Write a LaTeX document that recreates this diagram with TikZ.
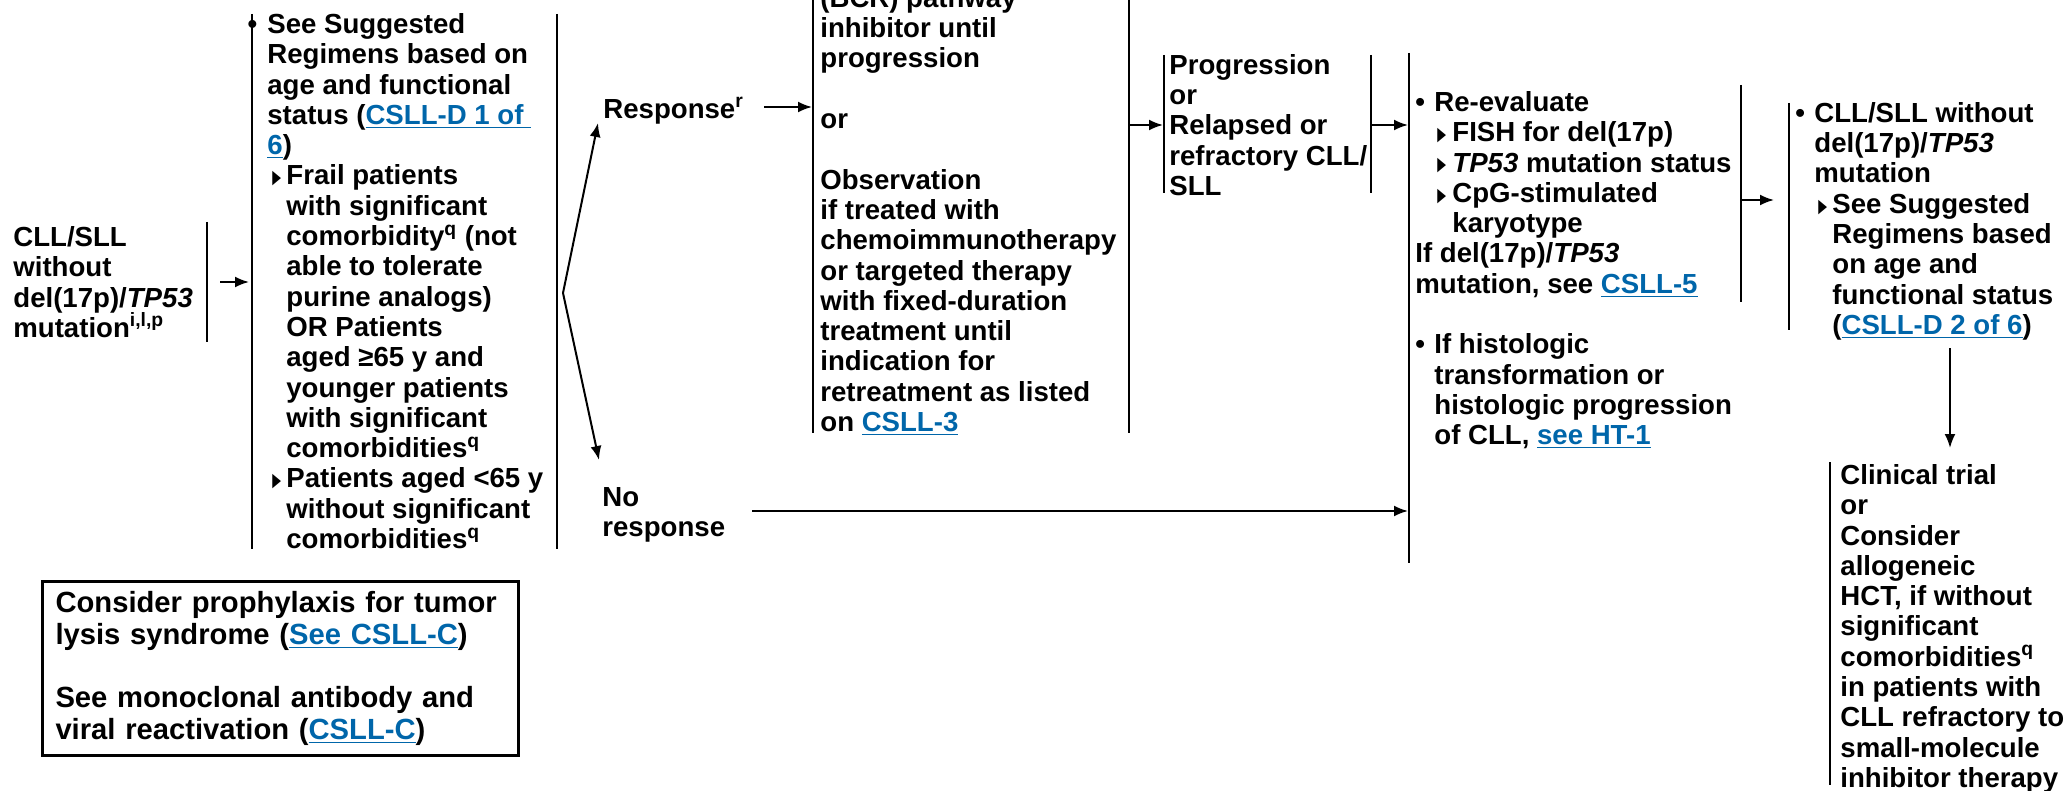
\documentclass[tikz,border=0pt]{standalone}
\usepackage{fontspec}
\setmainfont{Liberation Sans}
\newfontfamily\symfont{DejaVu Sans}
\usetikzlibrary{arrows.meta}
\definecolor{linkblue}{RGB}{0,102,170}
\newcommand{\lnk}[1]{\textcolor{linkblue}{\underline{#1}}}
\newcommand{\tri}{\raisebox{0.6pt}{\scalebox{0.6}[1]{\symfont\fontsize{9.5pt}{9.5pt}\selectfont ▶}}}
\begin{document}
\begin{tikzpicture}[x=0.5pt,y=-0.5pt,
    txt/.style={anchor=north west,inner sep=0pt,align=left,
      font=\fontsize{13.8pt}{15.15pt}\selectfont\bfseries},
    bar/.style={line width=1pt},
    arr/.style={line width=1pt,-{Latex[length=7pt,width=5.5pt]}}]
    \useasboundingbox (0,0) rectangle (2067,791);
    \clip (0,0) rectangle (2067,791);

    % diagnosis
    \node[txt] (start) at (13,226) {CLL/SLL\\without\\del(17p)/\textit{TP53}\\mutation\textsuperscript{i,l,p}};
    \draw[bar] (207,222) -- (207,342);

    % first-line therapy
    \node[txt] (regimens) at (267,13) {\llap{•\hspace{5pt}}See Suggested\\
      Regimens based on\\age and functional\\status (\lnk{CSLL-D 1 of\ }\\\lnk{6})\\
      \hspace*{2.5pt}\makebox[7pt][l]{\tri}Frail patients\\
      \hspace*{9.5pt}with significant\\
      \hspace*{9.5pt}comorbidity\textsuperscript{q} (not\\
      \hspace*{9.5pt}able to tolerate\\
      \hspace*{9.5pt}purine analogs)\\
      \hspace*{9.5pt}OR Patients\\
      \hspace*{9.5pt}aged ≥65 y and\\
      \hspace*{9.5pt}younger patients\\
      \hspace*{9.5pt}with significant\\
      \hspace*{9.5pt}comorbidities\textsuperscript{q}\\
      \hspace*{2.5pt}\makebox[7pt][l]{\tri}Patients aged <65 y\\
      \hspace*{9.5pt}without significant\\
      \hspace*{9.5pt}comorbidities\textsuperscript{q}};
    \draw[bar] (252,14) -- (252,549);
    \draw[bar] (557,14) -- (557,549);

    % response split
    \node[txt] (response) at (603,97) {Response\textsuperscript{r}};
    \node[txt] (noresp) at (602,487) {No\\response};
    \coordinate (fork) at (563,293);
    \coordinate (uptip) at (598,123);
    \coordinate (downtip) at (599,460);
    \draw[arr] (fork) -- (uptip);
    \draw[arr] (fork) -- (downtip);

    % maintenance / observation
    \node[txt] (maint) at (820,-13) {(BCR) pathway\\inhibitor until\\progression\\[15.15pt]
      or\\[15.15pt]Observation\\if treated with\\chemoimmunotherapy\\or targeted therapy\\
      with fixed-duration\\treatment until\\indication for\\retreatment as listed\\
      on \lnk{CSLL-3}};
    \draw[bar] (813,0) -- (813,433);
    \draw[bar] (1129,0) -- (1129,433);

    % progression
    \node[txt] (prog) at (1169,54) {Progression\\or\\Relapsed or\\refractory CLL/\\SLL};
    \draw[bar] (1164,55) -- (1164,193);
    \draw[bar] (1371,55) -- (1371,193);

    % re-evaluation
    \node[txt] (reeval) at (1415,91) {\makebox[9.5pt][l]{•}Re-evaluate\\
      \hspace*{11pt}\makebox[7.5pt][l]{\tri}FISH for del(17p)\\
      \hspace*{11pt}\makebox[7.5pt][l]{\tri}\textit{TP53} mutation status\\
      \hspace*{11pt}\makebox[7.5pt][l]{\tri}CpG-stimulated\\
      \hspace*{18.5pt}karyotype\\
      If del(17p)/\textit{TP53}\\
      mutation, see \lnk{CSLL-5}\\[15.15pt]
      \makebox[9.5pt][l]{•}If histologic\\
      \hspace*{9.5pt}transformation or\\
      \hspace*{9.5pt}histologic progression\\
      \hspace*{9.5pt}of CLL, \lnk{see HT-1}};
    \draw[bar] (1409,53) -- (1409,563);
    \draw[bar] (1741,85) -- (1741,302);

    % without del(17p)
    \node[txt] (nodel) at (1795,102) {\makebox[9.5pt][l]{•}CLL/SLL without\\
      \hspace*{9.5pt}del(17p)/\textit{TP53}\\
      \hspace*{9.5pt}mutation\\
      \hspace*{11.5pt}\makebox[7pt][l]{\tri}See Suggested\\
      \hspace*{18.5pt}Regimens based\\
      \hspace*{18.5pt}on age and\\
      \hspace*{18.5pt}functional status\\
      \hspace*{18.5pt}(\lnk{CSLL-D 2 of 6})};
    \draw[bar] (1789,103) -- (1789,330);

    % refractory options
    \node[txt] (trial) at (1840,464) {Clinical trial\\or\\Consider\\allogeneic\\
      HCT, if without\\significant\\comorbidities\textsuperscript{q}\\in patients with\\
      CLL refractory to\\small-molecule\\inhibitor therapy};
    \draw[bar] (1830,462) -- (1830,785);

    % supportive care box
    \node[draw,line width=1.5pt,anchor=north west,inner xsep=6.5pt,inner ysep=5pt,
      text width=225pt,align=left,
      font=\fontsize{14.6pt}{15.8pt}\selectfont\bfseries] (note) at (41,580)
      {Consider prophylaxis for tumor\\lysis syndrome (\lnk{See CSLL-C})\\[15.8pt]
       See monoclonal antibody and\\viral reactivation (\lnk{CSLL-C})};

    % connectors
    \coordinate (s1) at (220,282);
    \coordinate (s2) at (249,282);
    \draw[arr] (s1) -- (s2);
    \coordinate (r1) at (764,107);
    \coordinate (r2) at (812,107);
    \draw[arr] (r1) -- (r2);
    \coordinate (m1) at (1129,125);
    \coordinate (m2) at (1163,125);
    \draw[arr] (m1) -- (m2);
    \coordinate (p1) at (1371,125);
    \coordinate (p2) at (1408,125);
    \draw[arr] (p1) -- (p2);
    \coordinate (n1) at (752,511);
    \coordinate (n2) at (1408,511);
    \draw[arr] (n1) -- (n2);
    \coordinate (e1) at (1741,200);
    \coordinate (e2) at (1774,200);
    \draw[arr] (e1) -- (e2);
    \coordinate (d1) at (1950,348);
    \coordinate (d2) at (1950,448);
    \draw[arr] (d1) -- (d2);
\end{tikzpicture}
\end{document}
